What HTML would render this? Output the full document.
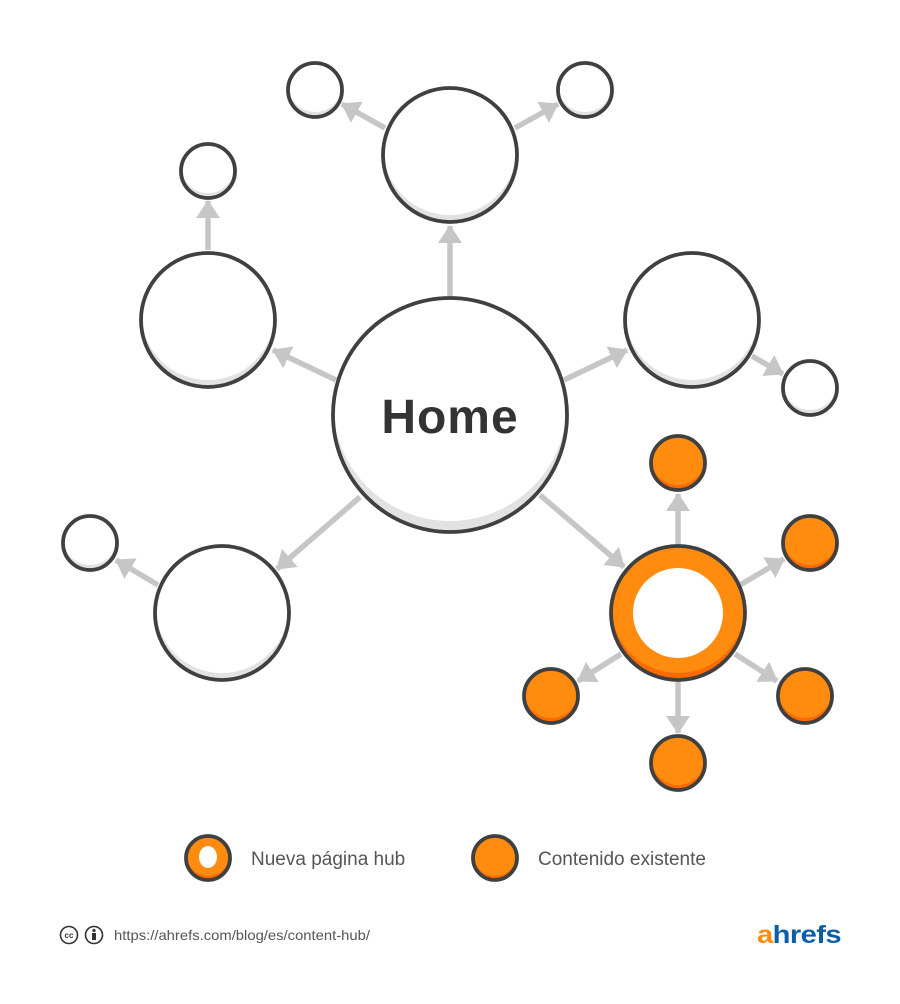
<!DOCTYPE html>
<html><head><meta charset="utf-8"><style>
html,body{margin:0;padding:0;background:#fff;width:900px;height:1004px;overflow:hidden}
</style></head><body>
<svg width="900" height="1004" viewBox="0 0 900 1004" xmlns="http://www.w3.org/2000/svg">
<defs>
<marker id="ar" markerUnits="userSpaceOnUse" markerWidth="24" markerHeight="26" refX="17" refY="12" orient="auto">
<path d="M0,0 L18,12 L0,24 Z" fill="#c6c6c6"/>
</marker>
<clipPath id="k1"><circle cx="450" cy="415" r="117"/></clipPath>
<clipPath id="k2"><circle cx="450" cy="155" r="67"/></clipPath>
<clipPath id="k3"><circle cx="208" cy="320" r="67"/></clipPath>
<clipPath id="k4"><circle cx="692" cy="320" r="67"/></clipPath>
<clipPath id="k5"><circle cx="222" cy="613" r="67"/></clipPath>
<clipPath id="k6"><circle cx="315" cy="90" r="27"/></clipPath>
<clipPath id="k7"><circle cx="585" cy="90" r="27"/></clipPath>
<clipPath id="k8"><circle cx="208" cy="171" r="27"/></clipPath>
<clipPath id="k9"><circle cx="810" cy="388" r="27"/></clipPath>
<clipPath id="k10"><circle cx="90" cy="543" r="27"/></clipPath>
<clipPath id="h0"><circle cx="678" cy="613" r="67"/></clipPath>
<clipPath id="o1"><circle cx="678" cy="463" r="27"/></clipPath>
<clipPath id="o2"><circle cx="810" cy="543" r="27"/></clipPath>
<clipPath id="o3"><circle cx="805" cy="696" r="27"/></clipPath>
<clipPath id="o4"><circle cx="678" cy="763" r="27"/></clipPath>
<clipPath id="o5"><circle cx="551" cy="696" r="27"/></clipPath>
<clipPath id="l1"><circle cx="208" cy="858" r="22"/></clipPath>
<clipPath id="l2"><circle cx="495" cy="858" r="22"/></clipPath>
</defs>
<g stroke="#c6c6c6" stroke-width="5.5" fill="none" marker-end="url(#ar)">
<line x1="450" y1="297" x2="450" y2="226"/>
<line x1="385" y1="128" x2="342" y2="104"/>
<line x1="515" y1="128" x2="558" y2="104"/>
<line x1="208" y1="250" x2="208" y2="201"/>
<line x1="336" y1="380" x2="273" y2="350"/>
<line x1="564" y1="380" x2="627" y2="350"/>
<line x1="752" y1="356" x2="783" y2="374"/>
<line x1="360" y1="497" x2="277" y2="569"/>
<line x1="158" y1="585" x2="116" y2="560"/>
<line x1="540" y1="495" x2="624" y2="567"/>
<line x1="678" y1="545" x2="678" y2="494"/>
<line x1="740" y1="585" x2="784" y2="559"/>
<line x1="735" y1="654" x2="777" y2="681"/>
<line x1="678" y1="681" x2="678" y2="733"/>
<line x1="621" y1="654" x2="578" y2="681"/>
</g>
<g stroke="none">
<g clip-path="url(#k1)"><circle cx="450" cy="415" r="117" fill="#e2e2e2"/><circle cx="450" cy="404" r="117" fill="#fff"/></g>
<g clip-path="url(#k2)"><circle cx="450" cy="155" r="67" fill="#e2e2e2"/><circle cx="450" cy="148" r="67" fill="#fff"/></g>
<g clip-path="url(#k3)"><circle cx="208" cy="320" r="67" fill="#e2e2e2"/><circle cx="208" cy="313" r="67" fill="#fff"/></g>
<g clip-path="url(#k4)"><circle cx="692" cy="320" r="67" fill="#e2e2e2"/><circle cx="692" cy="313" r="67" fill="#fff"/></g>
<g clip-path="url(#k5)"><circle cx="222" cy="613" r="67" fill="#e2e2e2"/><circle cx="222" cy="606" r="67" fill="#fff"/></g>
<g clip-path="url(#k6)"><circle cx="315" cy="90" r="27" fill="#e2e2e2"/><circle cx="315" cy="85" r="27" fill="#fff"/></g>
<g clip-path="url(#k7)"><circle cx="585" cy="90" r="27" fill="#e2e2e2"/><circle cx="585" cy="85" r="27" fill="#fff"/></g>
<g clip-path="url(#k8)"><circle cx="208" cy="171" r="27" fill="#e2e2e2"/><circle cx="208" cy="166" r="27" fill="#fff"/></g>
<g clip-path="url(#k9)"><circle cx="810" cy="388" r="27" fill="#e2e2e2"/><circle cx="810" cy="383" r="27" fill="#fff"/></g>
<g clip-path="url(#k10)"><circle cx="90" cy="543" r="27" fill="#e2e2e2"/><circle cx="90" cy="538" r="27" fill="#fff"/></g>
<g clip-path="url(#h0)"><circle cx="678" cy="613" r="67" fill="#ff6a00"/><circle cx="678" cy="606" r="67" fill="#ff8c0f"/></g>
<circle cx="678" cy="613" r="45" fill="#fff"/>
<g clip-path="url(#o1)"><circle cx="678" cy="463" r="27" fill="#ff6a00"/><circle cx="678" cy="458" r="27" fill="#ff8c0f"/></g>
<g clip-path="url(#o2)"><circle cx="810" cy="543" r="27" fill="#ff6a00"/><circle cx="810" cy="538" r="27" fill="#ff8c0f"/></g>
<g clip-path="url(#o3)"><circle cx="805" cy="696" r="27" fill="#ff6a00"/><circle cx="805" cy="691" r="27" fill="#ff8c0f"/></g>
<g clip-path="url(#o4)"><circle cx="678" cy="763" r="27" fill="#ff6a00"/><circle cx="678" cy="758" r="27" fill="#ff8c0f"/></g>
<g clip-path="url(#o5)"><circle cx="551" cy="696" r="27" fill="#ff6a00"/><circle cx="551" cy="691" r="27" fill="#ff8c0f"/></g>
<g clip-path="url(#l1)"><circle cx="208" cy="858" r="22" fill="#ff6a00"/><circle cx="208" cy="854" r="22" fill="#ff8c0f"/></g>
<ellipse cx="208" cy="857" rx="9" ry="11" fill="#fff"/>
<g clip-path="url(#l2)"><circle cx="495" cy="858" r="22" fill="#ff6a00"/><circle cx="495" cy="854" r="22" fill="#ff8c0f"/></g>
</g>
<g fill="none" stroke="#404040" stroke-width="3.8">
<circle cx="450" cy="415" r="117"/>
<circle cx="450" cy="155" r="67"/>
<circle cx="208" cy="320" r="67"/>
<circle cx="692" cy="320" r="67"/>
<circle cx="222" cy="613" r="67"/>
<circle cx="315" cy="90" r="27"/>
<circle cx="585" cy="90" r="27"/>
<circle cx="208" cy="171" r="27"/>
<circle cx="810" cy="388" r="27"/>
<circle cx="90" cy="543" r="27"/>
<circle cx="678" cy="613" r="67"/>
<circle cx="678" cy="463" r="27"/>
<circle cx="810" cy="543" r="27"/>
<circle cx="805" cy="696" r="27"/>
<circle cx="678" cy="763" r="27"/>
<circle cx="551" cy="696" r="27"/>
<circle cx="208" cy="858" r="22"/>
<circle cx="495" cy="858" r="22"/>
</g>
<text x="450" y="433" text-anchor="middle" font-family="Liberation Sans, sans-serif" font-weight="bold" font-size="48" fill="#333" letter-spacing="1">Home</text>
<text x="251" y="865" font-family="Liberation Sans, sans-serif" font-size="19" fill="#555">Nueva página hub</text>
<text x="538" y="865" font-family="Liberation Sans, sans-serif" font-size="19" fill="#555">Contenido existente</text>
<circle cx="69" cy="935" r="8.5" fill="none" stroke="#333" stroke-width="1.6"/>
<text x="69" y="938" text-anchor="middle" font-family="Liberation Sans, sans-serif" font-weight="bold" font-size="8" fill="#333">cc</text>
<circle cx="94" cy="935" r="8.5" fill="none" stroke="#333" stroke-width="1.6"/>
<circle cx="94" cy="930.5" r="1.6" fill="#333"/>
<rect x="92" y="933" width="4" height="7" fill="#333"/>
<text x="114" y="940" font-family="Liberation Sans, sans-serif" font-size="14" fill="#555" textLength="256" lengthAdjust="spacingAndGlyphs">https://ahrefs.com/blog/es/content-hub/</text>
<text x="757" y="943" font-family="Liberation Sans, sans-serif" font-weight="bold" font-size="25" letter-spacing="-0.5" textLength="84" lengthAdjust="spacingAndGlyphs"><tspan fill="#ff8c0f">a</tspan><tspan fill="#0b5ea8">hrefs</tspan></text>
</svg>
</body></html>
